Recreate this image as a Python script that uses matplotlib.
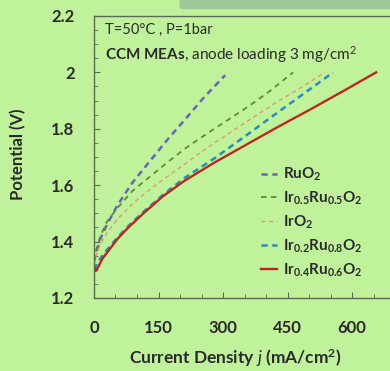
import numpy as np
import matplotlib.pyplot as plt
from matplotlib.patches import FancyBboxPatch

plt.rcParams['font.family'] = ['Lato', 'DejaVu Sans']
plt.rcParams['mathtext.fontset'] = 'custom'
plt.rcParams['mathtext.rm'] = 'Lato'
plt.rcParams['mathtext.it'] = 'Lato:italic'
plt.rcParams['mathtext.bf'] = 'Lato:bold'

# polarisation curves (j in mA/cm2, V in volts)
j_ru = [0, 5, 15, 30, 55, 90, 130, 170, 210, 255, 305]
v_ru = [1.33, 1.36, 1.41, 1.46, 1.53, 1.61, 1.685, 1.76, 1.83, 1.91, 1.99]

j_ir5 = [0, 5, 15, 30, 55, 90, 130, 170, 212, 260, 310, 360, 410, 463]
v_ir5 = [1.33, 1.37, 1.42, 1.47, 1.52, 1.58, 1.63, 1.68, 1.73, 1.78, 1.83, 1.88, 1.935, 2.0]

j_ir = [0, 5, 15, 30, 55, 90, 130, 170, 220, 280, 350, 420, 480, 537]
v_ir = [1.32, 1.35, 1.39, 1.43, 1.48, 1.535, 1.585, 1.63, 1.685, 1.75, 1.82, 1.89, 1.945, 2.0]

j_ir2 = [0, 5, 15, 30, 55, 80, 115, 160, 210, 280, 350, 420, 490, 556]
v_ir2 = [1.30, 1.315, 1.34, 1.37, 1.415, 1.455, 1.505, 1.565, 1.625, 1.695, 1.772, 1.85, 1.927, 2.0]

j_ir4 = [0, 4, 10, 20, 35, 55, 80, 115, 160, 210, 280, 350, 420, 500, 580, 656]
v_ir4 = [1.31, 1.295, 1.31, 1.34, 1.37, 1.41, 1.45, 1.50, 1.56, 1.615, 1.68, 1.74, 1.80, 1.866, 1.934, 2.0]

labels = ['$\\mathbf{RuO_2}$', '$\\mathbf{Ir_{0.5}Ru_{0.5}O_2}$', '$\\mathbf{IrO_2}$',
          '$\\mathbf{Ir_{0.2}Ru_{0.8}O_2}$', '$\\mathbf{Ir_{0.4}Ru_{0.6}O_2}$']

bg = '#c0f29c'
ink = '#2a2a2a'
frame = '#5a6a50'

fig = plt.figure(figsize=(3.9, 3.71), dpi=100, facecolor=bg)

# blurred slide band at the very top
fig.patches.append(FancyBboxPatch((0.47, 0.985), 0.55, 0.03, boxstyle='round,pad=0.01',
                                  transform=fig.transFigure, color='#6f8590', alpha=0.4,
                                  lw=0))

ax = fig.add_axes([0.241, 0.197, 0.772, 0.76], facecolor=bg)

ax.plot(j_ru, v_ru, color='#6a64b8', lw=1.8, dashes=(2.5, 1.8), label=labels[0])
ax.plot(j_ir5, v_ir5, color='#5e8a3a', lw=1.3, dashes=(3, 2.5), label=labels[1])
ax.plot(j_ir, v_ir, color='#e3966c', lw=1.0, dashes=(3, 2.5), label=labels[2])
ax.plot(j_ir2, v_ir2, color='#2a8cb8', lw=1.8, dashes=(2.5, 1.8), label=labels[3])
ax.plot(j_ir4, v_ir4, '-', color='#b82a20', lw=1.7, label=labels[4])

ax.set_xlim(0, 700)
ax.set_ylim(1.2, 2.2)
ax.set_xticks([0, 150, 300, 450, 600])
ax.set_xticks(np.arange(0, 701, 50), minor=True)
ax.set_yticks([1.2, 1.4, 1.6, 1.8, 2.0, 2.2])
ax.set_yticklabels(['1.2', '1.4', '1.6', '1.8', '2', '2.2'])
ax.set_yticks(np.arange(1.2, 2.21, 0.05), minor=True)
ax.tick_params(which='both', direction='in', colors=frame, labelcolor=ink)
ax.tick_params(which='major', length=4)
ax.tick_params(which='minor', length=3)
ax.tick_params(axis='x', pad=16, labelsize=12)
ax.tick_params(axis='y', pad=14, labelsize=12)
for lab in ax.get_xticklabels() + ax.get_yticklabels():
    lab.set_fontweight('bold')
for s in ax.spines.values():
    s.set_color(frame)
    s.set_linewidth(1.0)

ax.set_xlabel('Current Density $\\mathit{j}$ (mA/cm$^\\mathbf{2}$)', fontsize=12.5,
              fontweight='bold', color=ink)
ax.set_ylabel('Potential (V)', fontsize=12, fontweight='bold', color=ink)
ax.xaxis.set_label_coords(0.47, -0.175)
ax.yaxis.set_label_coords(-0.225, 0.51)

ax.text(0.037, 0.95, 'T=50°C , P=1bar', transform=ax.transAxes, fontsize=10.5,
        color=ink, va='center')
ax.text(0.037, 0.862, '$\\mathbf{CCM\\ MEAs}$, anode loading 3 mg/cm$^2$',
        transform=ax.transAxes, fontsize=11, color=ink, va='center')

leg = ax.legend(loc='lower left', bbox_to_anchor=(0.51, 0.02), frameon=False,
                fontsize=11, handlelength=1.0, handletextpad=0.4, labelspacing=0.42,
                labelcolor=ink)

fig.savefig('out.png', dpi=100, facecolor=bg)
